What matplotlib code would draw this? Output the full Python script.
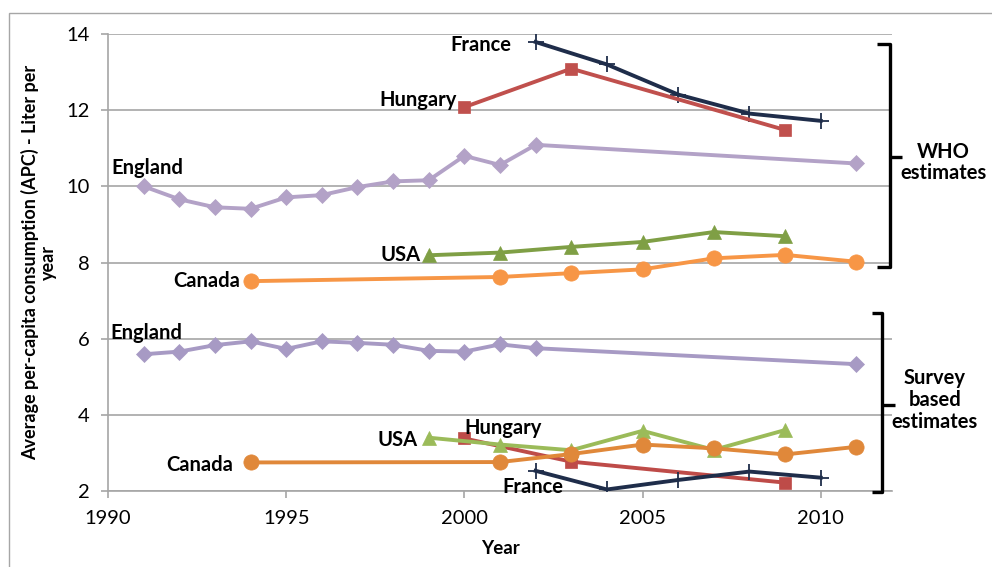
import matplotlib
matplotlib.use("Agg")
import matplotlib.pyplot as plt
from matplotlib.patches import Rectangle

plt.rcParams['font.family'] = ['Lato', 'DejaVu Sans']

# WHO estimates
who_england_years = [1991, 1992, 1993, 1994, 1995, 1996, 1997, 1998, 1999, 2000, 2001, 2002, 2011]
who_england = [10.0, 9.66, 9.45, 9.41, 9.71, 9.77, 9.98, 10.13, 10.16, 10.8, 10.56, 11.09, 10.6]
who_france_years = [2002, 2004, 2006, 2008, 2010]
who_france = [13.79, 13.2, 12.41, 11.91, 11.72]
who_hungary_years = [2000, 2003, 2009]
who_hungary = [12.08, 13.09, 11.48]
who_usa_years = [1999, 2001, 2003, 2005, 2007, 2009]
who_usa = [8.19, 8.26, 8.41, 8.54, 8.8, 8.69]
who_canada_years = [1994, 2001, 2003, 2005, 2007, 2009, 2011]
who_canada = [7.51, 7.62, 7.72, 7.82, 8.11, 8.2, 8.02]

# Survey based estimates
sv_england_years = [1991, 1992, 1993, 1994, 1995, 1996, 1997, 1998, 1999, 2000, 2001, 2002, 2011]
sv_england = [5.59, 5.66, 5.83, 5.93, 5.73, 5.93, 5.89, 5.84, 5.68, 5.66, 5.85, 5.75, 5.33]
sv_france_years = [2002, 2004, 2006, 2008, 2010]
sv_france = [2.53, 2.04, 2.29, 2.51, 2.35]
sv_hungary_years = [2000, 2003, 2009]
sv_hungary = [3.38, 2.77, 2.22]
sv_usa_years = [1999, 2001, 2003, 2005, 2007, 2009]
sv_usa = [3.4, 3.22, 3.07, 3.58, 3.08, 3.6]
sv_canada_years = [1994, 2001, 2003, 2005, 2007, 2009, 2011]
sv_canada = [2.75, 2.76, 2.97, 3.22, 3.12, 2.96, 3.16]

fig = plt.figure(figsize=(9.92, 5.67), dpi=100)
ax = fig.add_axes([108 / 992, 1 - 491 / 567, 784 / 992, 457 / 567])

# chart border (Excel chart area)
fig.add_artist(Rectangle((9 / 992, -0.1), 1.2, 1.1 - 13 / 567, transform=fig.transFigure,
                         fill=False, edgecolor='#a6a6a6', lw=1.0))

series = [
    # x, y, colour, marker, size
    (who_england_years, who_england, '#b3a2c7', 'D', 8),
    (who_france_years, who_france, '#1f2d4a', '+', 11),
    (who_hungary_years, who_hungary, '#c0504d', 's', 8),
    (who_usa_years, who_usa, '#7f9f45', '^', 10),
    (who_canada_years, who_canada, '#f79646', 'o', 11),
    (sv_england_years, sv_england, '#a79ac4', 'D', 8),
    (sv_hungary_years, sv_hungary, '#be4b48', 's', 8),
    (sv_france_years, sv_france, '#1f2d4a', '+', 11),
    (sv_usa_years, sv_usa, '#9bbb59', '^', 10),
    (sv_canada_years, sv_canada, '#e0883a', 'o', 11),
]
for xs, ys, c, m, ms in series:
    ax.plot(xs, ys, color=c, lw=2.8, marker=m, ms=ms, mfc=c, mec=c,
            mew=1.3 if m == '+' else 0.5, zorder=3)

# series labels next to first points
labels = [
    ('France', who_france_years[0], who_france[0], -24, -3, 'right'),
    ('Hungary', who_hungary_years[0], who_hungary[0], -8, 7, 'right'),
    ('England', who_england_years[0], who_england[0], 4, 18, 'center'),
    ('USA', who_usa_years[0], who_usa[0], -8, 0, 'right'),
    ('Canada', who_canada_years[0], who_canada[0], -10, 0, 'right'),
    ('England', sv_england_years[0], sv_england[0], 3, 21, 'center'),
    ('USA', sv_usa_years[0], sv_usa[0], -11, -2, 'right'),
    ('Hungary', sv_hungary_years[0], sv_hungary[0], 0, 10, 'left'),
    ('Canada', sv_canada_years[0], sv_canada[0], -17, -3, 'right'),
    ('France', sv_france_years[0], sv_france[0], -3, -16, 'center'),
]
for txt, x, y, dx, dy, ha in labels:
    ax.annotate(txt, (x, y), xytext=(dx, dy), textcoords='offset pixels',
                ha=ha, va='center', fontsize=14.5, fontweight='bold', zorder=4)

ax.set_xlim(1990, 2012)
ax.set_ylim(2, 14)
ax.set_xticks([1990, 1995, 2000, 2005, 2010])
ax.set_yticks(range(2, 15, 2))
ax.grid(axis='y', color='#a6a6a6', lw=1.2)
ax.set_axisbelow(True)
for s in ['top', 'right']:
    ax.spines[s].set_visible(False)
for s in ['left', 'bottom']:
    ax.spines[s].set_color('#a6a6a6')
    ax.spines[s].set_linewidth(1.2)
ax.tick_params(axis='both', colors='#a6a6a6', labelcolor='black', labelsize=14.5, length=5, width=1.2)
ax.tick_params(axis='x', pad=9)
ax.tick_params(axis='y', pad=8)
ax.set_xlabel('Year', fontsize=13.5, fontweight='bold', labelpad=9)
ax.set_ylabel('Average per-capita consumption (APC) - Liter per\nyear', fontsize=13,
              fontweight='bold', labelpad=7, linespacing=1.05)


def bracket(x, y0, y1, ymid, serif, tip):
    # x and serif/tip lengths in axis years, y in data units
    kw = dict(color='black', lw=2.4, clip_on=False, solid_capstyle='butt', zorder=5)
    ax.plot([x - serif, x, x, x - serif], [y0, y0, y1, y1], **kw)
    ax.plot([x, x + tip], [ymid, ymid], **kw)


bracket(2011.94, 13.74, 7.88, 10.77, 0.37, 0.34)
bracket(2011.72, 6.67, 1.97, 4.26, 0.28, 0.36)

ax.text(2013.45, 10.63, 'WHO\nestimates', fontsize=14.5, fontweight='bold', ha='center',
        va='center', linespacing=1.1, clip_on=False)
ax.text(2013.2, 4.39, 'Survey\nbased\nestimates', fontsize=14.5, fontweight='bold', ha='center',
        va='center', linespacing=1.1, clip_on=False)

fig.savefig('out.png', dpi=100)
